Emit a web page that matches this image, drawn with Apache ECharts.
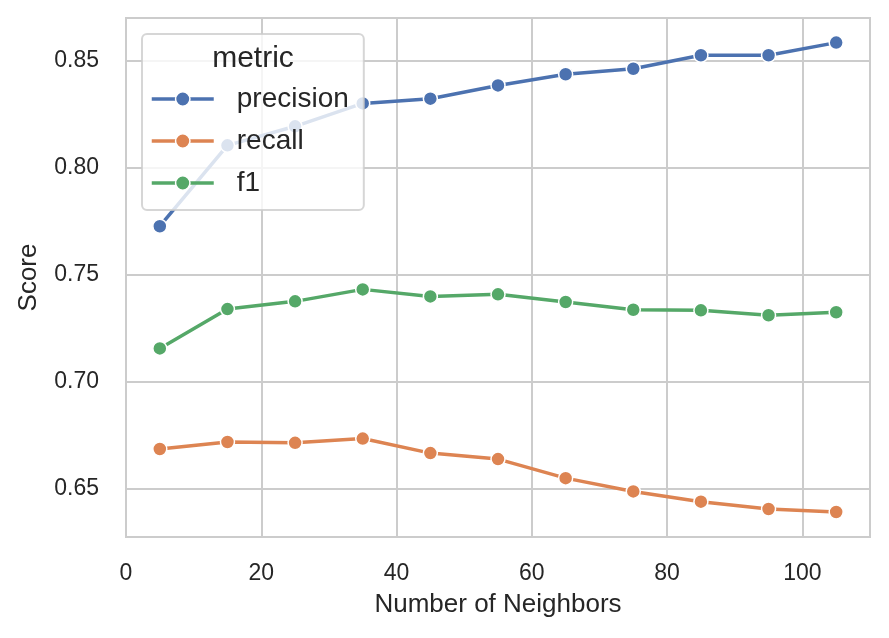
<!DOCTYPE html>
<html>
<head>
<meta charset="utf-8">
<script src="https://cdn.jsdelivr.net/npm/echarts@6/dist/echarts.min.js"></script>
<style>
html,body{margin:0;padding:0;background:#fff;}
#chart{width:889px;height:638px;}
</style>
</head>
<body>
<div id="chart"></div>
<script>
const neighbors = [5, 15, 25, 35, 45, 55, 65, 75, 85, 95, 105];
const precision = [0.7728, 0.8106, 0.8195, 0.8302, 0.8324, 0.8386, 0.8438, 0.8464, 0.8527, 0.8527, 0.8586];
const recall = [0.6687, 0.6720, 0.6716, 0.6736, 0.6668, 0.6640, 0.6551, 0.6489, 0.6441, 0.6407, 0.6393];
const f1 = [0.7157, 0.7341, 0.7377, 0.7433, 0.7400, 0.7410, 0.7374, 0.7338, 0.7335, 0.7312, 0.7326];
const xTicks = [0, 20, 40, 60, 80, 100];
const yTicks = [0.65, 0.70, 0.75, 0.80, 0.85];
const metricNames = ['precision', 'recall', 'f1'];
const metricColors = ['#4c72b0', '#dd8452', '#55a868'];

const FONT = "'Liberation Sans', Arial, sans-serif";
const TXT = '#262626';
const chart = echarts.init(document.getElementById('chart'), null, {renderer: 'canvas'});

function mkSeries(name, vals, color) {
  return {
    name: name,
    type: 'line',
    data: neighbors.map((x, i) => [x, vals[i]]),
    symbol: 'circle',
    symbolSize: 14,
    showSymbol: true,
    lineStyle: {color: color, width: 3.5},
    itemStyle: {color: color, borderColor: '#ffffff', borderWidth: 1.5},
    emphasis: {disabled: true},
    animation: false
  };
}

const option = {
  animation: false,
  backgroundColor: '#ffffff',
  textStyle: {fontFamily: FONT, color: TXT},
  grid: {left: 126, top: 18, right: 19, bottom: 101, show: true, borderColor: '#cccccc', borderWidth: 2, backgroundColor: 'transparent'},
  xAxis: {
    type: 'value',
    min: 0,
    max: 110,
    name: 'Number of Neighbors',
    nameLocation: 'middle',
    nameGap: 55,
    nameTextStyle: {fontSize: 26, color: TXT, fontFamily: FONT},
    axisLine: {show: false},
    axisTick: {show: false, customValues: xTicks},
    axisLabel: {customValues: xTicks, fontSize: 23, color: TXT, fontFamily: FONT, margin: 25},
    splitLine: {show: true, lineStyle: {color: '#cccccc', width: 2}}
  },
  yAxis: {
    type: 'value',
    min: 0.6276,
    max: 0.8701,
    name: 'Score',
    nameLocation: 'middle',
    nameGap: 84,
    nameTextStyle: {fontSize: 26, color: TXT, fontFamily: FONT},
    axisLine: {show: false},
    axisTick: {show: false, customValues: yTicks},
    axisLabel: {customValues: yTicks, fontSize: 23, color: TXT, fontFamily: FONT, margin: 27,
      formatter: v => v.toFixed(2)},
    splitLine: {show: true, lineStyle: {color: '#cccccc', width: 2}}
  },
  legend: {
    data: metricNames,
    orient: 'vertical',
    left: 142,
    top: 34,
    padding: [50, 15, 12, 8],
    itemGap: 12,
    itemWidth: 62,
    itemHeight: 18,
    backgroundColor: 'rgba(255,255,255,0.8)',
    borderColor: 'rgba(204,204,204,0.8)',
    borderWidth: 2,
    borderRadius: 5,
    lineStyle: {width: 3.5},
    itemStyle: {borderColor: '#ffffff', borderWidth: 1.5},
    textStyle: {fontSize: 28, color: TXT, fontFamily: FONT, lineHeight: 30, padding: [0, 0, 0, 18]},
    selectedMode: false
  },
  graphic: [{
    type: 'text',
    z: 100,
    x: 253,
    y: 59,
    style: {text: 'metric', fontSize: 30, fontFamily: FONT, fill: TXT, textAlign: 'center', textVerticalAlign: 'middle'}
  }],
  series: metricNames.map((n, i) => mkSeries(n, [precision, recall, f1][i], metricColors[i]))
};
chart.setOption(option);
</script>
</body>
</html>
